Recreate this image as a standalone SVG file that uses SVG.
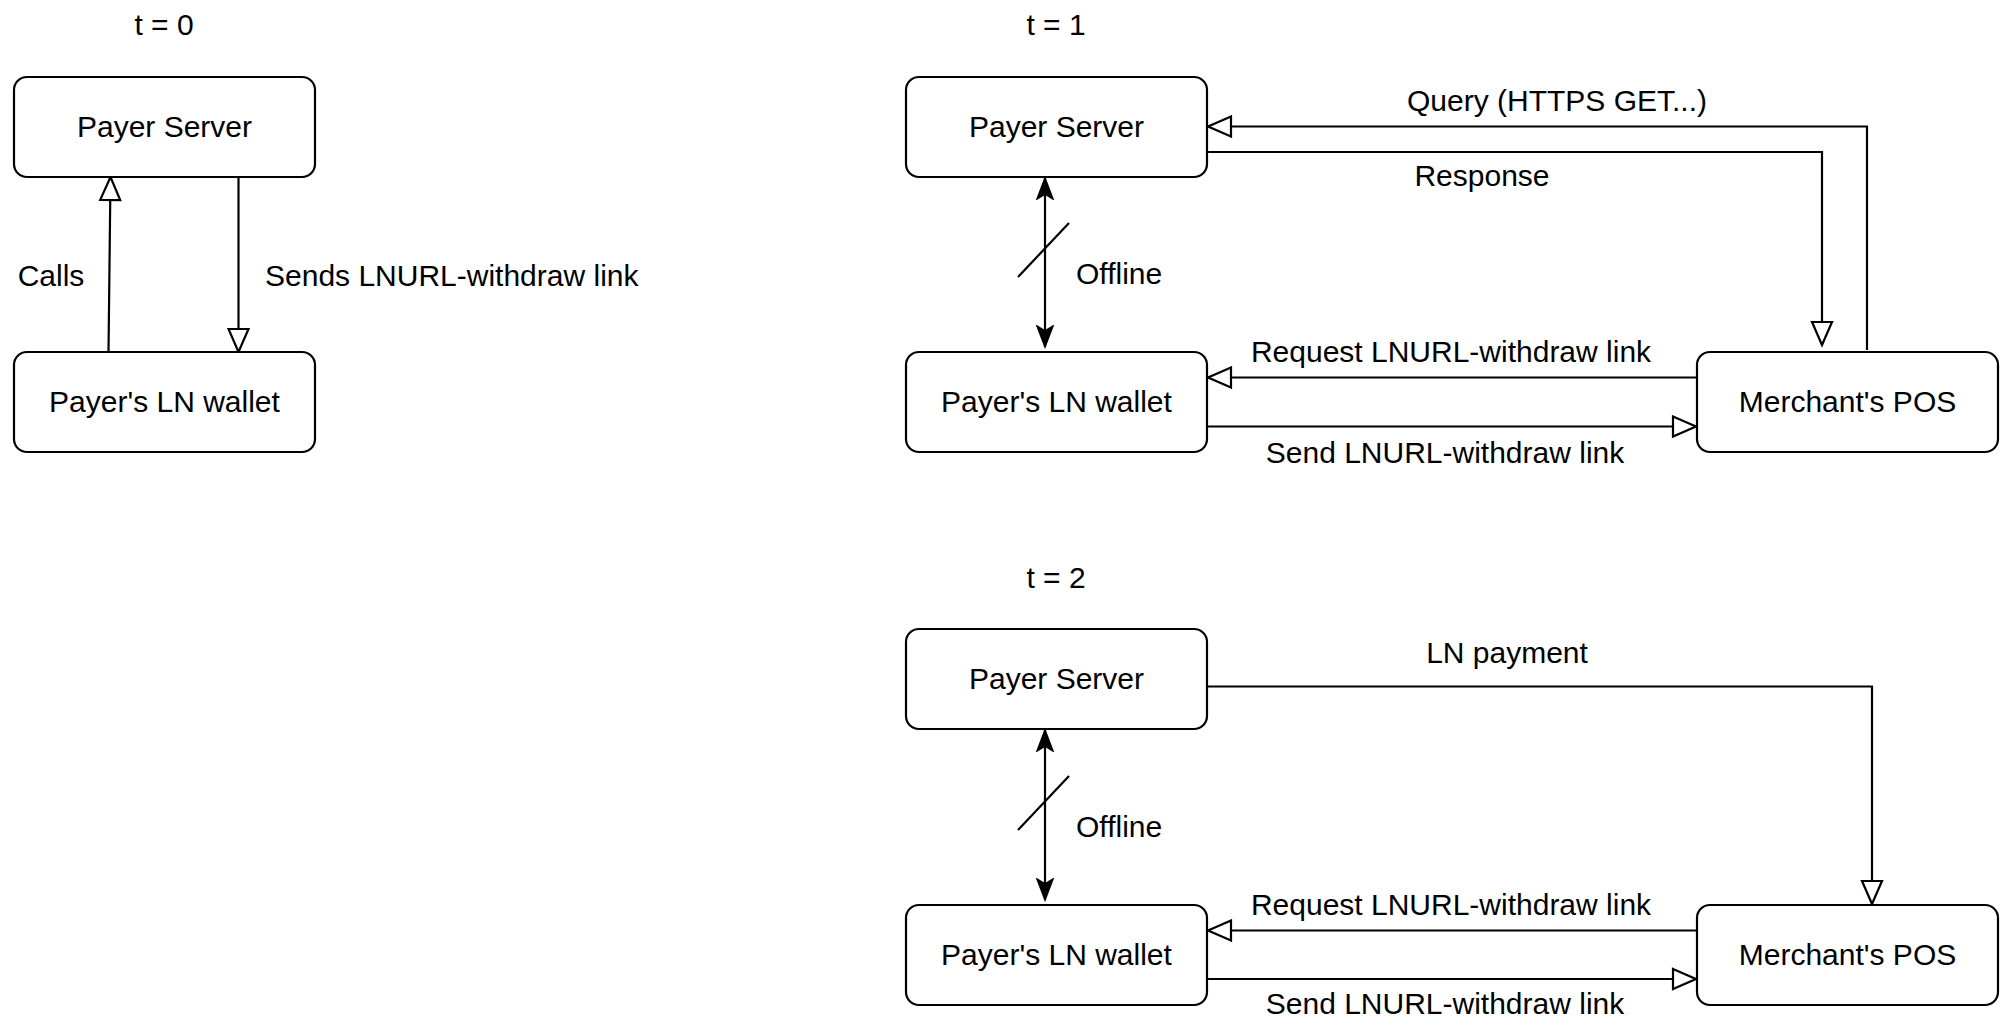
<svg xmlns="http://www.w3.org/2000/svg" width="2001" height="1033" viewBox="0 0 2001 1033">
<style>
.box{fill:#fff;stroke:#000;stroke-width:2.2}
.lbl{font-family:"Liberation Sans",Arial,sans-serif;font-size:30px;fill:#000;text-anchor:middle}
.lft{text-anchor:start}
.ln{fill:none;stroke:#000;stroke-width:2.2}
.hol{marker-end:url(#hollow)}
.dbl{marker-start:url(#classicS);marker-end:url(#classic)}
</style>
<defs>
<marker id="hollow" markerUnits="userSpaceOnUse" markerWidth="30" markerHeight="24" viewBox="-2 -2 28 24" refX="23" refY="10" orient="auto">
<path d="M0,0 L23,10 L0,20 Z" fill="#fff" stroke="#000" stroke-width="2.2"/>
</marker>
<marker id="classic" markerUnits="userSpaceOnUse" markerWidth="24" markerHeight="20" viewBox="0 0 24 20" refX="22" refY="10" orient="auto">
<path d="M1,2 L22,10 L1,18 L6,10 Z" fill="#000" stroke="#000" stroke-width="1.5"/>
</marker>
<marker id="classicS" markerUnits="userSpaceOnUse" markerWidth="24" markerHeight="20" viewBox="0 0 24 20" refX="22" refY="10" orient="auto-start-reverse">
<path d="M1,2 L22,10 L1,18 L6,10 Z" fill="#000" stroke="#000" stroke-width="1.5"/>
</marker>
</defs>

<g id="titles">
<text class="lbl" x="164" y="35">t = 0</text>
<text class="lbl" x="1056" y="35">t = 1</text>
<text class="lbl" x="1056" y="588">t = 2</text>
</g>

<g id="connectors">
<!-- t0 -->
<path class="ln hol" d="M108.5,352 L110.5,177"/>
<path class="ln hol" d="M238.5,177 L238.5,352"/>
<text class="lbl" x="51" y="286">Calls</text>
<text class="lbl lft" x="265" y="286">Sends LNURL-withdraw link</text>
<!-- t1 -->
<path class="ln hol" d="M1867,350 L1867,126.5 L1208,126.5"/>
<text class="lbl" x="1557" y="111">Query (HTTPS GET...)</text>
<path class="ln hol" d="M1207,152 L1822,152 L1822,345"/>
<text class="lbl" x="1482" y="186">Response</text>
<path class="ln dbl" d="M1045,178 L1045,347"/>
<path class="ln" d="M1018,277 L1069,223"/>
<text class="lbl lft" x="1076" y="284">Offline</text>
<path class="ln hol" d="M1697,377.5 L1208,377.5"/>
<text class="lbl" x="1451" y="362">Request LNURL-withdraw link</text>
<path class="ln hol" d="M1207,426.5 L1696,426.5"/>
<text class="lbl" x="1445" y="463">Send LNURL-withdraw link</text>
<!-- t2 -->
<path class="ln hol" d="M1207,686.5 L1872,686.5 L1872,904"/>
<text class="lbl" x="1507" y="663">LN payment</text>
<path class="ln dbl" d="M1045,730 L1045,900"/>
<path class="ln" d="M1018,830 L1069,776"/>
<text class="lbl lft" x="1076" y="837">Offline</text>
<path class="ln hol" d="M1697,930.5 L1208,930.5"/>
<text class="lbl" x="1451" y="915">Request LNURL-withdraw link</text>
<path class="ln hol" d="M1207,979 L1696,979"/>
<text class="lbl" x="1445" y="1014">Send LNURL-withdraw link</text>
</g>

<g id="t0-payer-server"><rect class="box" x="14" y="77" width="301" height="100" rx="13"/><text class="lbl" x="164.5" y="137">Payer Server</text></g>
<g id="t0-wallet"><rect class="box" x="14" y="352" width="301" height="100" rx="13"/><text class="lbl" x="164.5" y="412">Payer's LN wallet</text></g>
<g id="t1-payer-server"><rect class="box" x="906" y="77" width="301" height="100" rx="13"/><text class="lbl" x="1056.5" y="137">Payer Server</text></g>
<g id="t1-wallet"><rect class="box" x="906" y="352" width="301" height="100" rx="13"/><text class="lbl" x="1056.5" y="412">Payer's LN wallet</text></g>
<g id="t1-merchant"><rect class="box" x="1697" y="352" width="301" height="100" rx="13"/><text class="lbl" x="1847.5" y="412">Merchant's POS</text></g>
<g id="t2-payer-server"><rect class="box" x="906" y="629" width="301" height="100" rx="13"/><text class="lbl" x="1056.5" y="689">Payer Server</text></g>
<g id="t2-wallet"><rect class="box" x="906" y="905" width="301" height="100" rx="13"/><text class="lbl" x="1056.5" y="965">Payer's LN wallet</text></g>
<g id="t2-merchant"><rect class="box" x="1697" y="905" width="301" height="100" rx="13"/><text class="lbl" x="1847.5" y="965">Merchant's POS</text></g>
</svg>
